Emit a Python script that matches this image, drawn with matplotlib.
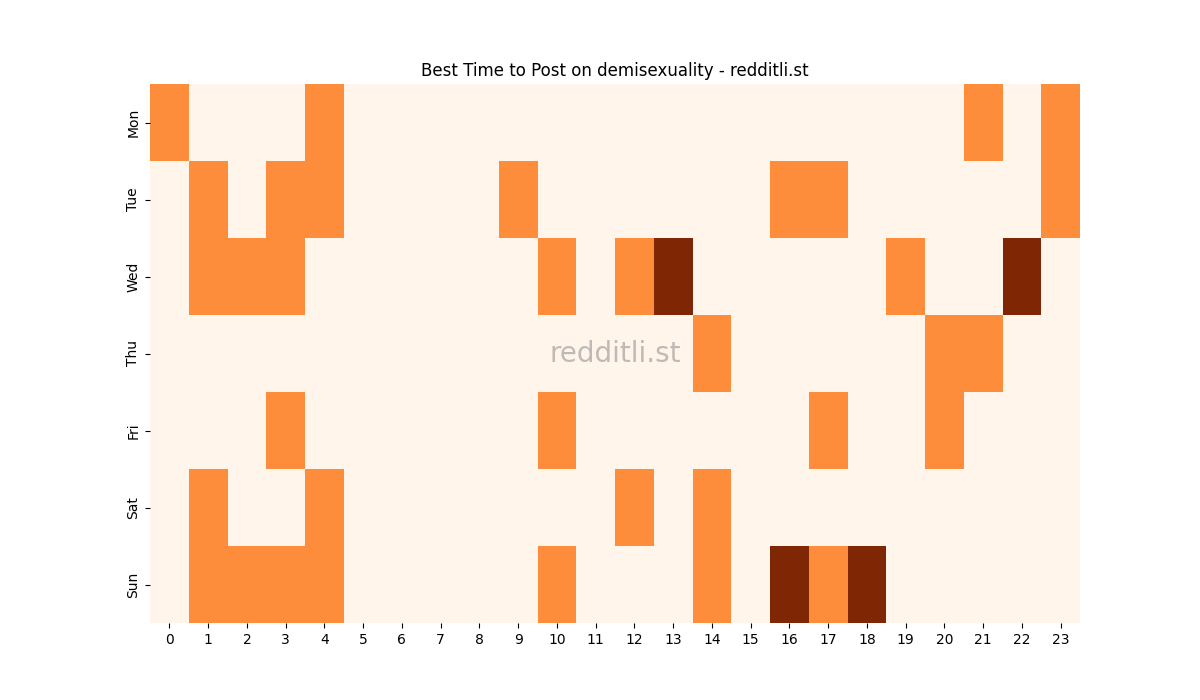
import matplotlib
matplotlib.use("Agg")
import matplotlib.pyplot as plt
import seaborn as sns
import numpy as np

days = ["Mon", "Tue", "Wed", "Thu", "Fri", "Sat", "Sun"]
hours = list(range(24))

mon = [1,0,0,0,1,0,0,0,0,0,0,0,0,0,0,0,0,0,0,0,0,1,0,1]
tue = [0,1,0,1,1,0,0,0,0,1,0,0,0,0,0,0,1,1,0,0,0,0,0,1]
wed = [0,1,1,1,0,0,0,0,0,0,1,0,1,2,0,0,0,0,0,1,0,0,2,0]
thu = [0,0,0,0,0,0,0,0,0,0,0,0,0,0,1,0,0,0,0,0,1,1,0,0]
fri = [0,0,0,1,0,0,0,0,0,0,1,0,0,0,0,0,0,1,0,0,1,0,0,0]
sat = [0,1,0,0,1,0,0,0,0,0,0,0,1,0,1,0,0,0,0,0,0,0,0,0]
sun = [0,1,1,1,1,0,0,0,0,0,1,0,0,0,1,0,2,1,2,0,0,0,0,0]

data = np.array([mon, tue, wed, thu, fri, sat, sun])

fig, ax = plt.subplots(figsize=(12, 7), dpi=100)
sns.heatmap(data, cmap="Oranges", vmin=0, vmax=2, cbar=False, ax=ax,
            xticklabels=hours, yticklabels=days)
ax.set_title("Best Time to Post on demisexuality - redditli.st")
ax.text(0.5, 0.5, "redditli.st", transform=ax.transAxes, ha="center", va="center",
        fontsize=20, color="gray", alpha=0.5)
fig.savefig("out.png")
